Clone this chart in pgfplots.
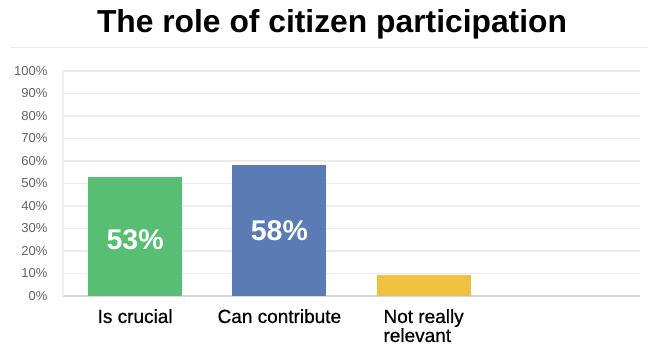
\documentclass[border=0pt]{standalone}
\usepackage{fontspec}
\setmainfont{Liberation Sans}
\usepackage{pgfplots}
\pgfplotsset{compat=1.18}
\definecolor{cgreen}{RGB}{87,190,115}
\definecolor{cblue}{RGB}{90,123,180}
\definecolor{cyellow}{RGB}{240,194,66}
\definecolor{cgrid}{RGB}{236,236,236}
\definecolor{caxis}{RGB}{216,216,216}
\definecolor{ctick}{RGB}{100,100,100}
\begin{document}
\begin{tikzpicture}[x=1pt,y=1pt]
\useasboundingbox (0,0) rectangle (648,347);
\draw[cgrid, line width=1pt] (10,299) -- (648,299);
\node[font=\fontsize{31.8}{36}\selectfont\bfseries] at (332,323) {The role of citizen participation};
\begin{axis}[
  at={(63pt,51pt)}, anchor=south west,
  scale only axis, width=577pt, height=225pt,
  xmin=-0.5, xmax=3.5, ymin=0, ymax=100,
  ybar, bar width=94pt,
  axis lines=left,
  axis line style={-},
  x axis line style={draw=caxis, line width=1.5pt},
  y axis line style={draw=cgrid, line width=1.2pt},
  ymajorgrids, grid style={draw=cgrid, line width=1.2pt},
  major tick length=0pt,
  ytick={0,10,...,100},
  yticklabel={\pgfmathprintnumber{\tick}\%},
  /pgf/number format/assume math mode=true,
  yticklabel style={font=\fontsize{13}{15}\selectfont, text=ctick, xshift=-12pt},
  xtick={0,1,2},
  xticklabels={Is crucial, Can contribute, {Not really\\relevant}},
  xticklabel style={font=\fontsize{19}{19}\selectfont\addfontfeature{FakeBold=0.6}, align=left, anchor=north, inner sep=0pt, yshift=-13pt},
  nodes near coords style={font=\fontsize{28.5}{32}\selectfont\bfseries, text=white, anchor=center},
]
\addplot[fill=cgreen, draw=none, bar shift=0pt,
  visualization depends on={rawy \as \rawy},
  nodes near coords={\pgfmathprintnumber{\pgfplotspointmeta}\%},
  nodes near coords style={yshift={-1.125pt*\rawy-3pt}}]
  coordinates {(0,53)};
\addplot[fill=cblue, draw=none, bar shift=0pt,
  visualization depends on={rawy \as \rawy},
  nodes near coords={\pgfmathprintnumber{\pgfplotspointmeta}\%},
  nodes near coords style={yshift={-1.125pt*\rawy}}]
  coordinates {(1,58)};
\addplot[fill=cyellow, draw=none, bar shift=0pt] coordinates {(2,9.3)};
\end{axis}
\end{tikzpicture}
\end{document}
